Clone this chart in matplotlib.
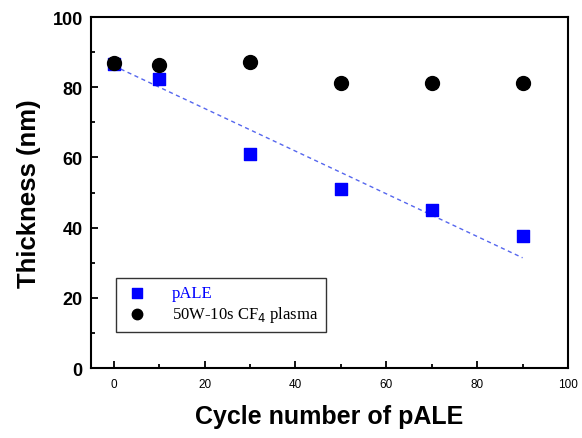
import numpy as np
import matplotlib
matplotlib.use('Agg')
import matplotlib.pyplot as plt

cycles = [0, 10, 30, 50, 70, 90]
pale_thk = [86.6, 82.3, 61.1, 51.1, 45.0, 37.7]
plasma_thk = [86.8, 86.3, 87.2, 81.3, 81.3, 81.3]
fit_x = [0, 90]
fit_y = [86.1, 31.4]

fig = plt.figure(figsize=(5.82, 4.39), dpi=100)
ax = fig.add_axes([91/582, 1 - 369/439, 477/582, 351/439])

ax.plot(fit_x, fit_y, '--', color='#5566ee', lw=1.0, dashes=(3, 2.5))
ax.scatter(cycles, pale_thk, marker='s', s=75, color='#0000ff', zorder=3, label='pALE')
ax.scatter(cycles, plasma_thk, marker='o', s=100, color='black', zorder=3,
           label='50W-10s CF$_4$ plasma')

ax.set_xlim(-5, 100)
ax.set_ylim(0, 100)
ax.set_xticks(np.arange(0, 101, 20))
ax.set_xticks(np.arange(10, 100, 20), minor=True)
ax.set_yticks(np.arange(0, 101, 20))
ax.set_yticks(np.arange(10, 100, 20), minor=True)
ax.tick_params(which='both', direction='in', width=1.3)
ax.tick_params(which='major', length=5)
ax.tick_params(which='minor', length=3)
ax.tick_params(axis='x', labelsize=8.5, pad=7)
ax.tick_params(axis='y', labelsize=13, pad=6)
for lab in ax.get_xticklabels():
    lab.set_family('Liberation Sans')
for lab in ax.get_yticklabels():
    lab.set_family('Liberation Sans')
    lab.set_fontweight('bold')
for sp in ax.spines.values():
    sp.set_linewidth(1.5)

ax.set_xlabel('Cycle number of pALE', fontsize=18, fontweight='bold',
              family='Liberation Sans', labelpad=10)
ax.set_ylabel('Thickness (nm)', fontsize=18.5, fontweight='bold',
              family='Liberation Sans', labelpad=8)

leg = ax.legend(loc='lower left', bbox_to_anchor=(0.052, 0.103),
                prop={'family': 'Liberation Serif', 'size': 12},
                frameon=True, fancybox=False, edgecolor='black',
                handletextpad=1.3, borderpad=0.45, labelspacing=0.2,
                borderaxespad=0, scatterpoints=1, markerscale=0.75,
                handlelength=1.6)
leg.get_frame().set_linewidth(1.0)
leg.get_texts()[0].set_color('#0000ff')

fig.savefig('out.png', dpi=100)
